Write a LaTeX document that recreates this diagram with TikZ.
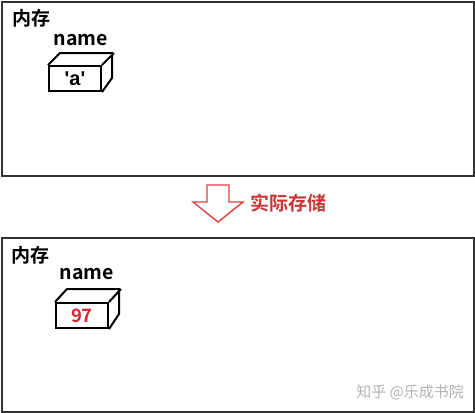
\documentclass[tikz,border=0pt]{standalone}
\usepackage{fontspec}
\setmainfont{Noto Sans CJK SC}[BoldFont={Noto Sans CJK SC Bold}]
\newfontfamily\latinfont{Liberation Sans}
\definecolor{txtred}{RGB}{215,40,50}
\definecolor{arrred}{RGB}{225,60,60}
\begin{document}
\begin{tikzpicture}[x=1pt,y=-1pt,
  memframe/.style={draw=black!80,line width=2pt},
  facebox/.style={draw=black,line width=2pt,minimum width=52pt,minimum height=25pt,inner sep=0pt,font=\bfseries\fontsize{18.5}{18.5}\selectfont},
  cubeedge/.style={draw=black,line width=2pt,line join=miter},
  lbl/.style={font=\bfseries\fontsize{19}{19}\selectfont,inner sep=0pt},
  redtxt/.style={text=txtred}]
\useasboundingbox (0,0) rectangle (475,413);
\fill[white] (0,0) rectangle (475,413);
% top memory
\node[memframe,minimum width=472pt,minimum height=174pt,anchor=north west,inner sep=0pt] (mem1) at (1,1) {};
\node[lbl,anchor=west] (t1) at (12,18) {内存};
\node[lbl,font=\bfseries\fontsize{19.5}{19.5}\selectfont] (n1) at (81,40) {name};
\node[facebox,anchor=north west,font=\latinfont\bfseries\fontsize{20}{20}\selectfont] (c1) at (48,65) {\char39a\char39};
\draw[cubeedge] (c1.north west) -- ++(12,-12) -- ++(52,0) -- ++(0,25) -- (c1.south east);
\draw[cubeedge] (c1.north east) -- ++(12,-12);
% arrow
\draw[draw=arrred,fill=white,line width=1.4pt,line join=miter]
  (207,185) -- (229,185) -- (229,202) -- (243,202) -- (218,222) -- (193,202) -- (207,202) -- cycle;
\node[lbl,text=arrred!90!black,anchor=west,font=\bfseries\fontsize{19}{19}\selectfont] (act) at (250,203) {实际存储};
% bottom memory
\node[memframe,minimum width=472pt,minimum height=174pt,anchor=north west,inner sep=0pt] (mem2) at (1,237) {};
\node[lbl,anchor=west] (t2) at (11,255) {内存};
\node[lbl,font=\bfseries\fontsize{19.5}{19.5}\selectfont] (n2) at (87,274) {name};
\node[facebox,anchor=north west,redtxt] (c2) at (55,302) {97};
\draw[cubeedge] (c2.north west) -- ++(12,-13) -- ++(52,0) -- ++(0,25) -- (c2.south east);
\draw[cubeedge] (c2.north east) -- ++(12,-13);
% watermark
\node[anchor=east,text=black!30,font=\fontsize{15}{15}\selectfont,inner sep=0pt] (wm) at (464,392) {知乎 @乐成书院};
\end{tikzpicture}
\end{document}
